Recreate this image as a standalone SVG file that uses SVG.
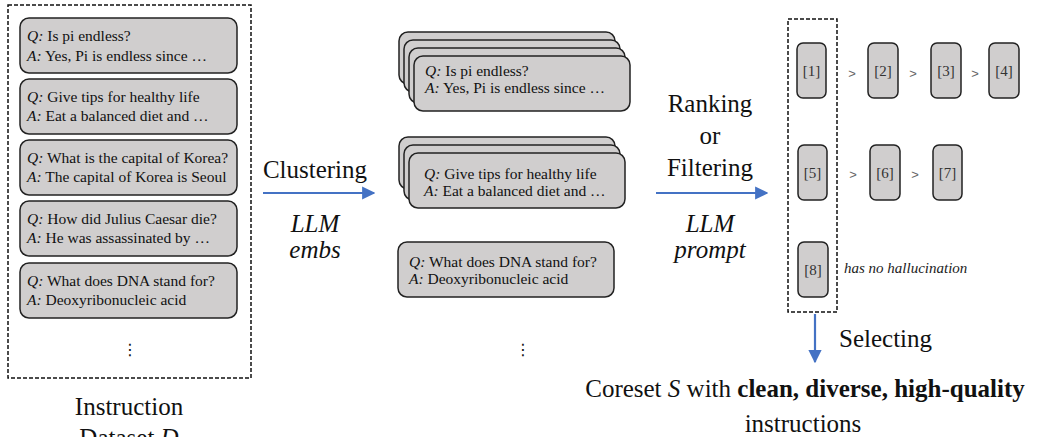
<svg xmlns="http://www.w3.org/2000/svg" width="1039" height="437" viewBox="0 0 1039 437">
<style>
.card{fill:#d0cece;stroke:#222;stroke-width:1.5}
.sm{fill:#d0cece;stroke:#222;stroke-width:1.5}
.dash{fill:none;stroke:#111;stroke-width:1.5;stroke-dasharray:4 2}
.t{font-family:'Liberation Serif','Times New Roman','DejaVu Serif',serif;font-size:15.5px;fill:#111}
.i{font-style:italic}
.lbl{font-family:'Liberation Serif','Times New Roman','DejaVu Serif',serif;font-size:25px;fill:#111}
.num{font-family:'Liberation Serif','Times New Roman','DejaVu Serif',serif;font-size:15px;fill:#333}
.gt{font-family:'Liberation Sans',Arial,sans-serif;font-size:13px;fill:#666}
.dots{font-family:'DejaVu Sans',sans-serif;font-size:16px;fill:#111}
.arr{stroke:#4472c4;stroke-width:2.2;fill:none}
</style>
<defs>
<marker id="ah" viewBox="0 0 10 10" refX="9" refY="5" markerWidth="6" markerHeight="6" markerUnits="strokeWidth" orient="auto">
<path d="M0,0 L10,5 L0,10 z" fill="#4472c4"/>
</marker>
</defs>

<g id="dataset">
<rect class="dash" x="8" y="5" width="243" height="373"/>
<rect class="card" x="20" y="18" width="217" height="55" rx="9"/>
<text class="t" x="27" y="41"><tspan class="i">Q:</tspan> Is pi endless?</text>
<text class="t" x="27" y="61"><tspan class="i">A:</tspan> Yes, Pi is endless since …</text>
<rect class="card" x="20" y="79" width="217" height="55" rx="9"/>
<text class="t" x="27" y="102"><tspan class="i">Q:</tspan> Give tips for healthy life</text>
<text class="t" x="27" y="121"><tspan class="i">A:</tspan> Eat a balanced diet and …</text>
<rect class="card" x="20" y="140" width="217" height="55" rx="9"/>
<text class="t" x="27" y="163"><tspan class="i">Q:</tspan> What is the capital of Korea?</text>
<text class="t" x="27" y="182"><tspan class="i">A:</tspan> The capital of Korea is Seoul</text>
<rect class="card" x="20" y="201" width="217" height="55" rx="9"/>
<text class="t" x="27" y="224"><tspan class="i">Q:</tspan> How did Julius Caesar die?</text>
<text class="t" x="27" y="243"><tspan class="i">A:</tspan> He was assassinated by …</text>
<rect class="card" x="20" y="263" width="217" height="55" rx="9"/>
<text class="t" x="27" y="286"><tspan class="i">Q:</tspan> What does DNA stand for?</text>
<text class="t" x="27" y="305"><tspan class="i">A:</tspan> Deoxyribonucleic acid</text>
<text class="dots" x="130" y="355" text-anchor="middle">⋮</text>
<text class="lbl" x="129" y="415" text-anchor="middle">Instruction</text>
<text class="lbl" x="129" y="446" text-anchor="middle">Dataset <tspan class="i">D</tspan></text>
</g>

<g id="cluster1">
<rect class="card" x="399" y="32" width="216" height="52" rx="9"/>
<rect class="card" x="404" y="40" width="216" height="52" rx="9"/>
<rect class="card" x="409" y="48" width="216" height="55" rx="9"/>
<rect class="card" x="414" y="56" width="216" height="55" rx="9"/>
<text class="t" x="425" y="76"><tspan class="i">Q:</tspan> Is pi endless?</text>
<text class="t" x="425" y="93"><tspan class="i">A:</tspan> Yes, Pi is endless since …</text>
</g>

<g id="cluster2">
<rect class="card" x="399" y="137" width="216" height="52" rx="9"/>
<rect class="card" x="404" y="145" width="216" height="55" rx="9"/>
<rect class="card" x="409" y="153" width="216" height="55" rx="9"/>
<text class="t" x="424" y="179"><tspan class="i">Q:</tspan> Give tips for healthy life</text>
<text class="t" x="424" y="196"><tspan class="i">A:</tspan> Eat a balanced diet and …</text>
</g>

<g id="cluster3">
<rect class="card" x="398" y="242" width="216" height="55" rx="9"/>
<text class="t" x="409" y="267"><tspan class="i">Q:</tspan> What does DNA stand for?</text>
<text class="t" x="409" y="284"><tspan class="i">A:</tspan> Deoxyribonucleic acid</text>
<text class="dots" x="523" y="355" text-anchor="middle">⋮</text>
</g>

<g id="ranked">
<rect class="dash" x="788" y="19" width="49" height="293"/>
<rect class="sm" x="797" y="43" width="29" height="55" rx="6"/>
<text class="num" x="811.5" y="76" text-anchor="middle">[1]</text>
<text class="gt" x="852" y="78" text-anchor="middle">&gt;</text>
<rect class="sm" x="868" y="43" width="30" height="55" rx="6"/>
<text class="num" x="883" y="76" text-anchor="middle">[2]</text>
<text class="gt" x="913" y="78" text-anchor="middle">&gt;</text>
<rect class="sm" x="931" y="43" width="30" height="55" rx="6"/>
<text class="num" x="946" y="76" text-anchor="middle">[3]</text>
<text class="gt" x="975" y="78" text-anchor="middle">&gt;</text>
<rect class="sm" x="989" y="43" width="30" height="55" rx="6"/>
<text class="num" x="1004" y="76" text-anchor="middle">[4]</text>

<rect class="sm" x="798" y="145" width="29" height="55" rx="6"/>
<text class="num" x="812.5" y="178" text-anchor="middle">[5]</text>
<text class="gt" x="853" y="179" text-anchor="middle">&gt;</text>
<rect class="sm" x="870" y="145" width="30" height="55" rx="6"/>
<text class="num" x="885" y="178" text-anchor="middle">[6]</text>
<text class="gt" x="915" y="179" text-anchor="middle">&gt;</text>
<rect class="sm" x="933" y="145" width="29" height="55" rx="6"/>
<text class="num" x="947.5" y="178" text-anchor="middle">[7]</text>

<rect class="sm" x="798" y="242" width="30" height="55" rx="6"/>
<text class="num" x="813" y="275" text-anchor="middle">[8]</text>
<text class="num i" x="844" y="273" style="fill:#222">has no hallucination</text>
</g>

<g id="connectors">
<line class="arr" x1="263" y1="193" x2="374" y2="193" marker-end="url(#ah)"/>
<line class="arr" x1="656" y1="193" x2="767" y2="193" marker-end="url(#ah)"/>
<line class="arr" x1="815" y1="314" x2="815" y2="362" marker-end="url(#ah)"/>
</g>

<g id="labels">
<text class="lbl" x="315" y="178" text-anchor="middle">Clustering</text>
<text class="lbl i" x="315" y="232" text-anchor="middle">LLM</text>
<text class="lbl i" x="315" y="258" text-anchor="middle">embs</text>
<text class="lbl" x="710" y="112" text-anchor="middle">Ranking</text>
<text class="lbl" x="710" y="144" text-anchor="middle">or</text>
<text class="lbl" x="710" y="176" text-anchor="middle">Filtering</text>
<text class="lbl i" x="710" y="232" text-anchor="middle">LLM</text>
<text class="lbl i" x="710" y="258" text-anchor="middle">prompt</text>
<text class="lbl" x="839" y="347">Selecting</text>
<text class="lbl" x="805" y="397" text-anchor="middle">Coreset <tspan class="i">S</tspan> with <tspan font-weight="bold">clean, diverse, high-quality</tspan></text>
<text class="lbl" x="803" y="432" text-anchor="middle">instructions</text>
</g>
</svg>
